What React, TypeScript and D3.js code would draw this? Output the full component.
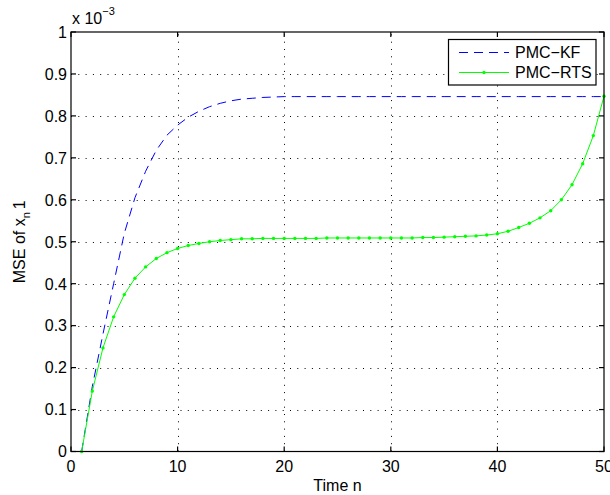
import React, { useEffect, useRef } from 'react';
import * as d3 from 'd3';

const timeSteps = [
  1, 2, 3, 4, 5, 6, 7, 8, 9, 10, 11, 12, 13, 14, 15, 16, 17, 18, 19, 20, 21, 22, 23, 24, 25,
  26, 27, 28, 29, 30, 31, 32, 33, 34, 35, 36, 37, 38, 39, 40, 41, 42, 43, 44, 45, 46, 47, 48, 49, 50,
];

// values in units of 1e-3
const kfValues = [
  0, 0.155, 0.28, 0.4, 0.52, 0.605, 0.668, 0.718, 0.754, 0.778, 0.797, 0.811, 0.822, 0.83, 0.836,
  0.84, 0.842, 0.844, 0.845, 0.846, 0.846, 0.846, 0.846, 0.846, 0.846, 0.846, 0.846, 0.846, 0.846,
  0.846, 0.846, 0.846, 0.846, 0.846, 0.846, 0.846, 0.846, 0.846, 0.846, 0.846, 0.846, 0.846, 0.846,
  0.846, 0.846, 0.846, 0.846, 0.846, 0.846, 0.846,
];

const rtsValues = [
  0, 0.144, 0.247, 0.321, 0.374, 0.413, 0.44, 0.46, 0.474, 0.484, 0.491, 0.496, 0.5, 0.503, 0.505,
  0.507, 0.507, 0.508, 0.508, 0.508, 0.508, 0.508, 0.508, 0.509, 0.509, 0.509, 0.509, 0.509, 0.509,
  0.509, 0.509, 0.509, 0.51, 0.51, 0.511, 0.512, 0.513, 0.514, 0.516, 0.519, 0.525, 0.534, 0.544,
  0.557, 0.574, 0.6, 0.636, 0.686, 0.753, 0.847,
];

const xTicks = [0, 10, 20, 30, 40, 50];
const yTicks = [0, 0.1, 0.2, 0.3, 0.4, 0.5, 0.6, 0.7, 0.8, 0.9, 1];
const seriesNames = ['PMC\u2212KF', 'PMC\u2212RTS'];

const FONT = '"Liberation Sans", Arial, Helvetica, sans-serif';

const App = () => {
  const ref = useRef<SVGSVGElement>(null);

  useEffect(() => {
    const svg = d3.select(ref.current);
    svg.selectAll('*').remove();

    const left = 71;
    const right = 604;
    const top = 32;
    const bottom = 451.5;

    const x = d3.scaleLinear().domain([0, 50]).range([left, right]);
    const y = d3.scaleLinear().domain([0, 1]).range([bottom, top]);

    svg.append('rect').attr('width', 610).attr('height', 495).attr('fill', '#fff');

    // grid
    const grid = svg.append('g').attr('stroke', '#000').attr('stroke-width', 1).attr('stroke-dasharray', '1 6.3');
    xTicks.slice(1, -1).forEach((t) => {
      grid.append('line').attr('x1', Math.round(x(t)) + 0.5).attr('x2', Math.round(x(t)) + 0.5).attr('y1', bottom).attr('y2', top);
    });
    yTicks.slice(1, -1).forEach((t) => {
      grid.append('line').attr('y1', Math.round(y(t)) + 0.5).attr('y2', Math.round(y(t)) + 0.5).attr('x1', left).attr('x2', right);
    });

    // lines
    const kfData = timeSteps.map((t, i) => [t, kfValues[i]] as [number, number]);
    const rtsData = timeSteps.map((t, i) => [t, rtsValues[i]] as [number, number]);
    const line = d3
      .line<[number, number]>()
      .x((d) => x(d[0]))
      .y((d) => y(d[1]));

    svg
      .append('path')
      .attr('d', line(kfData))
      .attr('fill', 'none')
      .attr('stroke', '#0000ff')
      .attr('stroke-width', 1)
      .attr('stroke-dasharray', '9 6');

    svg
      .append('path')
      .attr('d', line(rtsData))
      .attr('fill', 'none')
      .attr('stroke', '#00ff00')
      .attr('stroke-width', 1);

    svg
      .append('g')
      .selectAll('circle')
      .data(rtsData)
      .enter()
      .append('circle')
      .attr('cx', (d) => x(d[0]))
      .attr('cy', (d) => y(d[1]))
      .attr('r', 1.7)
      .attr('fill', '#00ff00');

    // axes box and ticks
    svg
      .append('rect')
      .attr('x', left)
      .attr('y', top)
      .attr('width', right - left)
      .attr('height', bottom - top)
      .attr('fill', 'none')
      .attr('stroke', '#000')
      .attr('stroke-width', 1.2);

    const ticks = svg.append('g').attr('stroke', '#000').attr('stroke-width', 1.2);
    const tl = 5;
    xTicks.forEach((t) => {
      const px = x(t);
      ticks.append('line').attr('x1', px).attr('x2', px).attr('y1', bottom).attr('y2', bottom - tl);
      ticks.append('line').attr('x1', px).attr('x2', px).attr('y1', top).attr('y2', top + tl);
    });
    yTicks.forEach((t) => {
      const py = y(t);
      ticks.append('line').attr('x1', left).attr('x2', left + tl).attr('y1', py).attr('y2', py);
      ticks.append('line').attr('x1', right).attr('x2', right - tl).attr('y1', py).attr('y2', py);
    });

    // tick labels
    svg
      .append('g')
      .selectAll('text')
      .data(xTicks)
      .enter()
      .append('text')
      .attr('x', (d) => x(d))
      .attr('y', 471.5)
      .attr('text-anchor', 'middle')
      .attr('font-family', FONT)
      .attr('font-size', 16)
      .text((d) => String(d));

    svg
      .append('g')
      .selectAll('text')
      .data(yTicks)
      .enter()
      .append('text')
      .attr('x', 67)
      .attr('y', (d) => y(d) + 5.8)
      .attr('text-anchor', 'end')
      .attr('font-family', FONT)
      .attr('font-size', 16)
      .text((d) => String(d));

    // exponent
    const exp = svg.append('text').attr('x', 72).attr('y', 24).attr('font-family', FONT).attr('font-size', 16);
    exp.append('tspan').text('x 10');
    exp.append('tspan').attr('dy', -9).attr('font-size', 11).text('\u22123');

    // axis labels
    svg
      .append('text')
      .attr('x', (left + right) / 2)
      .attr('y', 491)
      .attr('text-anchor', 'middle')
      .attr('font-family', FONT)
      .attr('font-size', 16)
      .text('Time n');

    const yl = svg
      .append('text')
      .attr('transform', `translate(25,${(top + bottom) / 2}) rotate(-90)`)
      .attr('text-anchor', 'middle')
      .attr('font-family', FONT)
      .attr('font-size', 16);
    yl.append('tspan').text('MSE of x');
    yl.append('tspan').attr('dy', 5).attr('font-size', 11).text('n');
    yl.append('tspan').attr('dy', -5).attr('dx', 3).text('1');

    // legend
    const lg = svg.append('g');
    lg.append('rect')
      .attr('x', 448.5)
      .attr('y', 39.5)
      .attr('width', 147.5)
      .attr('height', 45.5)
      .attr('fill', '#fff')
      .attr('stroke', '#000')
      .attr('stroke-width', 1.2);
    const rows = [
      { name: seriesNames[0], color: '#0000ff', dash: '9 6', y: 52.5, marker: false },
      { name: seriesNames[1], color: '#00ff00', dash: null, y: 72.5, marker: true },
    ];
    rows.forEach((r) => {
      lg.append('line')
        .attr('x1', 459)
        .attr('x2', 509)
        .attr('y1', r.y)
        .attr('y2', r.y)
        .attr('stroke', r.color)
        .attr('stroke-width', 1)
        .attr('stroke-dasharray', r.dash);
      if (r.marker) {
        lg.append('circle').attr('cx', 484).attr('cy', r.y).attr('r', 1.7).attr('fill', r.color);
      }
      lg.append('text')
        .attr('x', 515)
        .attr('y', r.y + 5.8)
        .attr('font-family', FONT)
        .attr('font-size', 16)
        .text(r.name);
    });
  }, []);

  return (
    <svg
      ref={ref}
      width={610}
      height={495}
      style={{ position: 'absolute', left: 0, top: 0, display: 'block' }}
    ></svg>
  );
};

export default App;
